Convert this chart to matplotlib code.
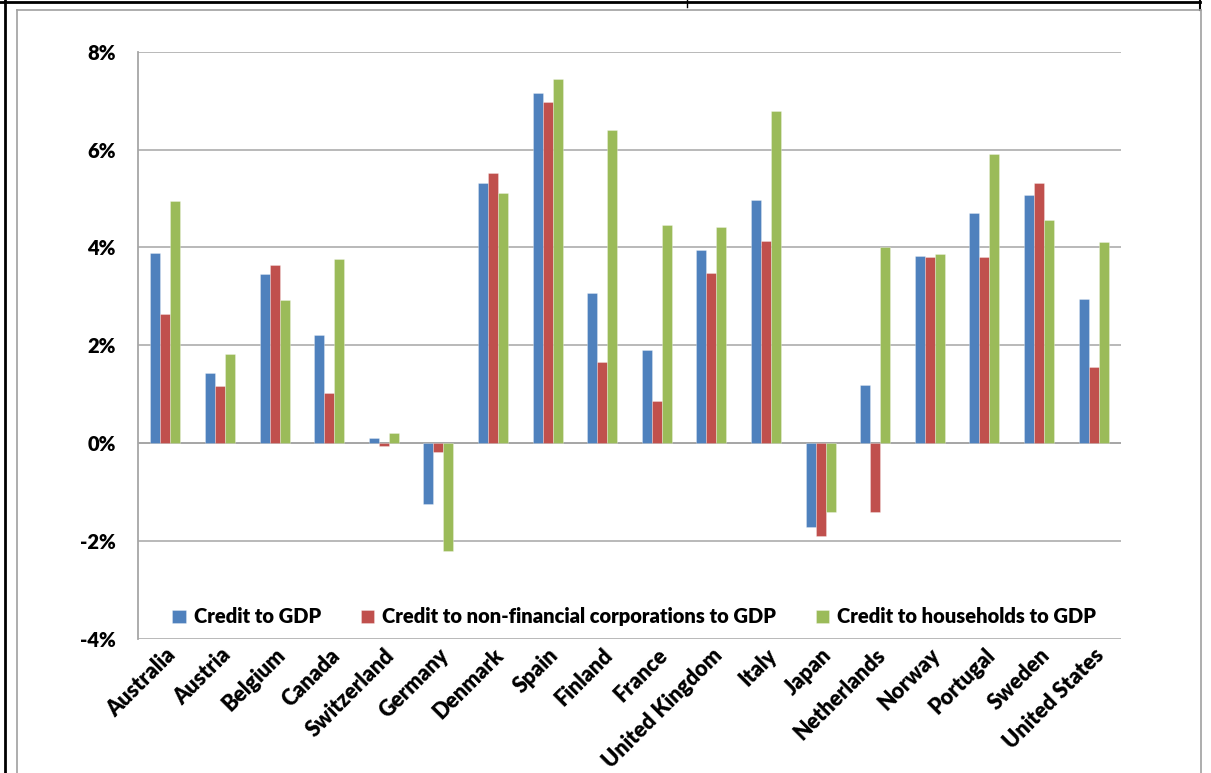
import matplotlib
matplotlib.use("Agg")
import matplotlib.pyplot as plt
import numpy as np
from matplotlib.lines import Line2D

categories = ["Australia", "Austria", "Belgium", "Canada", "Switzerland", "Germany",
              "Denmark", "Spain", "Finland", "France", "United Kingdom", "Italy",
              "Japan", "Netherlands", "Norway", "Portugal", "Sweden", "United States"]
credit_gdp = [3.88, 1.43, 3.46, 2.21, 0.10, -1.25, 5.31, 7.15, 3.06, 1.90, 3.94, 4.97,
              -1.72, 1.18, 3.82, 4.71, 5.08, 2.95]
credit_nfc = [2.65, 1.17, 3.65, 1.03, -0.05, -0.18, 5.53, 6.98, 1.65, 0.87, 3.47, 4.13,
              -1.90, -1.40, 3.80, 3.80, 5.31, 1.56]
credit_hh = [4.94, 1.82, 2.93, 3.77, 0.20, -2.20, 5.11, 7.45, 6.41, 4.46, 4.41, 6.78,
             -1.40, 4.00, 3.86, 5.91, 4.57, 4.11]
series_names = ["Credit to GDP", "Credit to non-financial corporations to GDP",
                "Credit to households to GDP"]
yticks = [-4, -2, 0, 2, 4, 6, 8]

colors = ["#4F81BD", "#C0504D", "#9BBB59"]
FONT = "Lato"
WEIGHT = "heavy"

W, H = 1211, 773
fig = plt.figure(figsize=(W / 100, H / 100), dpi=100)

def fline(x0, y0, x1, y1, color, lw):
    fig.add_artist(Line2D([x0 / W, x1 / W], [1 - y0 / H, 1 - y1 / H],
                          transform=fig.transFigure, color=color, lw=lw))

fline(0, 2, 1200, 2, "black", 2.0)
fline(5, 0, 5, H, "black", 2.0)
fline(1200, 0, 1200, 10, "black", 1.5)
fline(687, 0, 687, 7, "black", 1.0)
fline(17, 10, 1201, 10, "#A0A0A0", 1.2)
fline(17, 10, 17, H, "#A0A0A0", 1.2)
fline(1201, 10, 1201, H, "#A0A0A0", 1.2)

left, right, top, bottom = 138, 1121, 51.7, 639
ax = fig.add_axes([left / W, 1 - bottom / H, (right - left) / W, (bottom - top) / H])

x = np.arange(len(categories))
w = 0.183
for i, (vals, c, name) in enumerate(zip([credit_gdp, credit_nfc, credit_hh], colors, series_names)):
    ax.bar(x + (i - 1) * w, vals, width=w, color=c, label=name, zorder=3,
           edgecolor=(1, 1, 1, 0.5), linewidth=0.4)

ax.set_xlim(-0.5, len(categories) - 0.5)
ax.set_ylim(-4, 8)
ax.set_yticks(yticks)
ax.set_yticklabels([f"{v}%" for v in yticks], fontsize=14.5, fontweight=WEIGHT, family=FONT)
ax.yaxis.grid(True, color="#B3B3B3", lw=1.3, zorder=0)
ax.axhline(0, color="#A6A6A6", lw=1.3, zorder=2)
ax.set_axisbelow(True)
for s in ["top", "right"]:
    ax.spines[s].set_visible(False)
ax.spines["bottom"].set_visible(False)
ax.spines["left"].set_color("#A6A6A6")
ax.spines["left"].set_linewidth(1.3)
ax.tick_params(axis="y", length=0, pad=16)
ax.tick_params(axis="x", length=0, pad=4)

ax.set_xticks(x)
ax.set_xticklabels(categories, rotation=45, ha="right", rotation_mode="anchor",
                   fontsize=15.5, fontweight=WEIGHT, family=FONT)

leg = ax.legend(loc="center", bbox_to_anchor=(0.505, 0.0375), ncol=3, frameon=False,
                prop={"family": FONT, "weight": WEIGHT, "size": 14.5},
                handlelength=0.65, handleheight=0.65, handletextpad=0.4, columnspacing=2.0)

fig.savefig("out.png", dpi=100)
